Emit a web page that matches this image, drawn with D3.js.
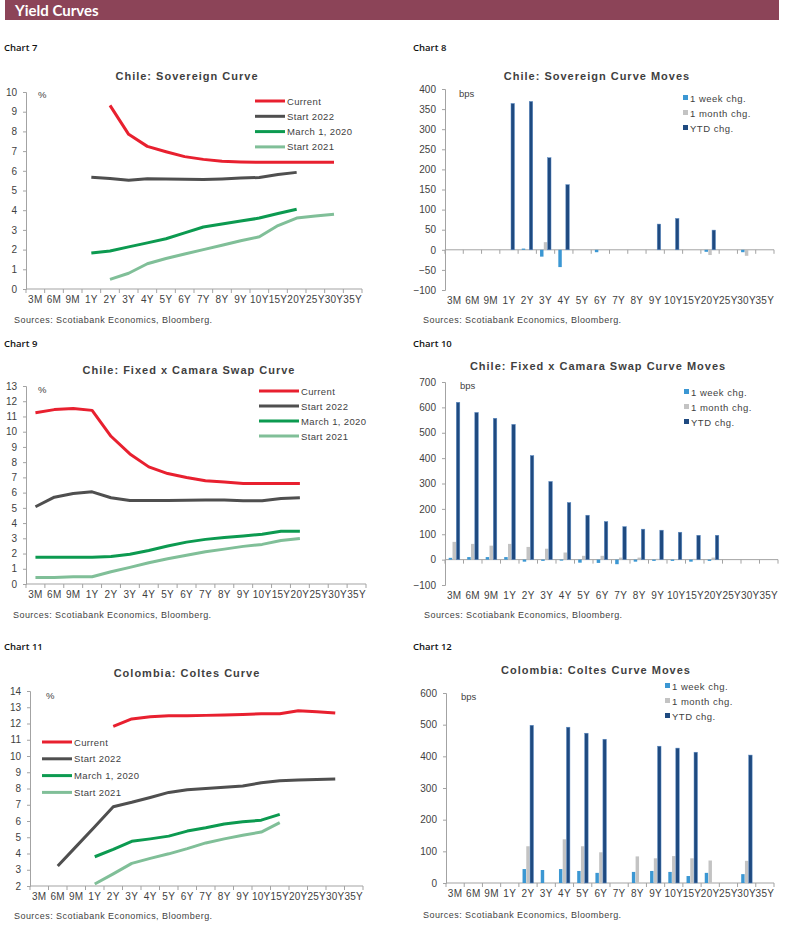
<!DOCTYPE html>
<html>
<head>
<meta charset="utf-8">
<script src="https://cdn.jsdelivr.net/npm/d3@7/dist/d3.min.js"></script>
<style>
  body { margin: 0; background: #fff; }
  svg text { font-family: "Liberation Sans", Arial, sans-serif; }
</style>
</head>
<body>
<svg id="page" width="785" height="928"></svg>
<script>
// tenors on every x axis
var tenors = ["3M","6M","9M","1Y","2Y","3Y","4Y","5Y","6Y","7Y","8Y","9Y","10Y","15Y","20Y","25Y","30Y","35Y"];

var lineNames = ["Current", "Start 2022", "March 1, 2020", "Start 2021"];
var barNames = ["1 week chg.", "1 month chg.", "YTD chg."];

// Chart 7: Chile sovereign curve (%)
var cur7  = [null,null,null,null,9.32,7.85,7.24,6.97,6.72,6.58,6.48,6.45,6.43,6.43,6.43,6.43,6.43,null];
var s22_7 = [null,null,null,5.67,5.61,5.52,5.6,5.58,5.57,5.56,5.59,5.63,5.66,5.81,5.92,null,null,null];
var m20_7 = [null,null,null,1.83,1.93,2.14,2.34,2.55,2.85,3.15,3.3,3.45,3.6,3.83,4.05,null,null,null];
var s21_7 = [null,null,null,null,0.49,0.8,1.28,1.55,1.78,2.0,2.22,2.45,2.65,3.22,3.6,3.71,3.8,null];

// Chart 8: Chile sovereign curve moves (bps)
var wk8  = [null,null,null,null,3,-17,-43,null,-6,null,null,null,null,null,-5,null,-6,null];
var mo8  = [null,null,null,null,null,19,null,null,null,null,null,null,null,null,-13,null,-15,null];
var ytd8 = [null,null,null,364,369,229,162,null,null,null,null,64,78,null,49,null,null,null];

// Chart 9: Chile fixed x camara swap curve (%)
var cur9  = [11.25,11.45,11.52,11.4,9.7,8.54,7.69,7.25,6.99,6.78,6.7,6.6,6.6,6.6,6.6,null,null,null];
var s22_9 = [5.07,5.7,5.94,6.05,5.66,5.48,5.48,5.48,5.5,5.52,5.52,5.47,5.47,5.62,5.67,null,null,null];
var m20_9 = [1.75,1.75,1.75,1.75,1.8,1.95,2.2,2.49,2.75,2.93,3.05,3.15,3.27,3.46,3.46,null,null,null];
var s21_9 = [0.43,0.43,0.48,0.48,0.8,1.09,1.4,1.66,1.89,2.12,2.29,2.47,2.6,2.86,2.99,null,null,null];

// Chart 10: Chile fixed x camara swap curve moves (bps)
var wk10  = [7,10,10,10,-8,-5,-4,-12,-13,-18,-8,-5,-5,-8,-5,null,null,null];
var mo10  = [70,62,55,62,50,43,28,15,15,8,8,3,2,3,8,null,null,null];
var ytd10 = [620,580,557,533,410,308,225,175,150,130,120,116,108,96,96,null,null,null];

// Chart 11: Colombia coltes curve (%)
var cur11  = [null,null,null,null,11.82,12.28,12.42,12.48,12.48,12.5,12.53,12.56,12.6,12.6,12.79,12.72,12.64,null];
var s22_11 = [null,3.23,4.44,5.65,6.88,7.15,7.45,7.76,7.92,8.0,8.08,8.15,8.35,8.48,8.52,8.55,8.58,null];
var m20_11 = [null,null,null,3.8,4.25,4.75,4.9,5.07,5.38,5.58,5.82,5.95,6.05,6.41,null,null,null,null];
var s21_11 = [null,null,null,2.12,2.75,3.39,3.7,3.98,4.3,4.65,4.9,5.12,5.32,5.9,null,null,null,null];

// Chart 12: Colombia coltes curve moves (bps)
var wk12  = [null,null,null,null,44,41,44,38,32,null,35,38,35,22,32,null,28,null];
var mo12  = [null,null,null,null,116,null,138,116,97,null,84,78,85,78,71,null,70,null];
var ytd12 = [null,null,null,null,498,null,492,473,454,null,null,432,426,413,null,null,404,null];

var lineColors = ["#e8202f", "#4f4f4f", "#0c9a50", "#80bf98"];
var barColors = ["#3b97d3", "#c3c3c3", "#1f4a80"];
var axisColor = "#a3a3a3";
var textColor = "#3f3f3f";

var svg = d3.select("#page");

// header band
svg.append("rect").attr("x", 5).attr("y", 0).attr("width", 774).attr("height", 20).attr("fill", "#8c4458");
svg.append("text").attr("x", 15).attr("y", 15.5).text("Yield Curves")
  .style("font-family", "Lato, 'Open Sans', sans-serif").style("font-weight", "bold")
  .attr("font-size", "15px").attr("fill", "#fff");

function chartLabel(x, y, txt) {
  svg.append("text").attr("x", x).attr("y", y).text(txt)
    .style("font-family", "'Open Sans', sans-serif").style("font-weight", "600")
    .attr("font-size", "9.5px").attr("fill", "#111");
}

function addText(x, y, txt, size, opts) {
  opts = opts || {};
  var t = svg.append("text").attr("x", x).attr("y", y).text(txt)
    .attr("font-size", size + "px").attr("fill", opts.fill || textColor)
    .attr("text-anchor", opts.anchor || "start")
    .attr("letter-spacing", opts.ls || 0);
  if (opts.bold) t.attr("font-weight", "bold");
  return t;
}

// common frame: y axis, x band scale, x labels
function frame(c) {
  var x = d3.scaleBand().domain(tenors).range([c.left, c.right]).padding(0);
  var y = d3.scaleLinear().domain(c.domain).range([c.bottom, c.top]);

  var yAxis = d3.axisLeft(y).tickValues(c.ticks).tickSize(3).tickPadding(6).tickFormat(d3.format("d"));
  var gy = svg.append("g").attr("transform", "translate(" + c.left + ",0)").call(yAxis);
  gy.select(".domain").attr("stroke", axisColor);
  gy.selectAll(".tick line").attr("stroke", axisColor);
  gy.selectAll(".tick text").attr("fill", textColor).attr("font-size", "10px")
    .attr("font-family", "'Liberation Sans', Arial, sans-serif");

  // x axis line at zero (or bottom) with ticks at band edges
  var base = y(c.base);
  svg.append("line").attr("x1", c.left).attr("x2", c.right).attr("y1", base).attr("y2", base)
    .attr("stroke", axisColor);
  var edges = tenors.map(function(t) { return x(t); }).concat([c.right]);
  svg.selectAll(null).data(edges).enter().append("line")
    .attr("x1", function(d) { return d; }).attr("x2", function(d) { return d; })
    .attr("y1", base).attr("y2", base + 4).attr("stroke", axisColor);

  svg.selectAll(null).data(tenors).enter().append("text")
    .attr("x", function(d) { return x(d) + x.bandwidth() / 2; })
    .attr("y", c.bottom + 13.5)
    .attr("text-anchor", "middle").attr("font-size", "10px").attr("letter-spacing", 0.3)
    .attr("fill", textColor)
    .text(function(d) { return d; });

  addText(c.unitX, c.unitY, c.unit, 9.5);
  addText(c.titleX, c.titleY, c.title, 11, { anchor: "middle", bold: true, ls: 1 });
  addText(c.srcX, c.srcY, "Sources: Scotiabank Economics, Bloomberg.", 9, { ls: 0.45 });
  return { x: x, y: y };
}

function lineChart(c) {
  var f = frame(c);
  var x = f.x, y = f.y;
  var line = d3.line()
    .defined(function(d) { return d != null; })
    .x(function(d, i) { return x(tenors[i]) + x.bandwidth() / 2; })
    .y(function(d) { return y(d); });

  // draw back to front so "Current" sits on top
  c.series.slice().reverse().forEach(function(s, j) {
    var k = c.series.length - 1 - j;
    svg.append("path").datum(s).attr("d", line)
      .attr("fill", "none").attr("stroke", lineColors[k]).attr("stroke-width", 3)
      .attr("stroke-linejoin", "round");
  });

  lineNames.forEach(function(n, i) {
    var ly = c.legY + i * c.legStep;
    svg.append("line").attr("x1", c.legX).attr("x2", c.legX + c.legLen)
      .attr("y1", ly).attr("y2", ly).attr("stroke", lineColors[i]).attr("stroke-width", 3);
    addText(c.legX + c.legLen + 2, ly + 3.5, n, 9.5, { ls: 0.35 });
  });
}

function barChart(c) {
  var f = frame(c);
  var x = f.x, y = f.y;
  var groupW = x.bandwidth() * 0.6;
  var x1 = d3.scaleBand().domain([0, 1, 2]).range([0, groupW]).paddingInner(0.08);
  var off = (x.bandwidth() - groupW) / 2;

  c.series.forEach(function(s, k) {
    var pts = s.map(function(v, i) { return { t: tenors[i], v: v }; })
      .filter(function(d) { return d.v != null; });
    svg.selectAll(null).data(pts).enter().append("rect")
      .attr("x", function(d) { return x(d.t) + off + x1(k); })
      .attr("width", x1.bandwidth())
      .attr("y", function(d) { return y(Math.max(0, d.v)); })
      .attr("height", function(d) { return Math.abs(y(d.v) - y(0)); })
      .attr("fill", barColors[k])
      .attr("stroke", k === 2 ? "#5d8cc4" : "none").attr("stroke-width", 0.5);
  });

  barNames.forEach(function(n, i) {
    var ly = c.legY + i * 15;
    svg.append("rect").attr("x", c.legX).attr("y", ly - 3).attr("width", 5).attr("height", 5)
      .attr("fill", barColors[i]);
    addText(c.legX + 7, ly + 3.5, n, 9.5, { ls: 0.5 });
  });
}

// Chart 7
chartLabel(4, 51, "Chart 7");
lineChart({
  left: 26, right: 362, top: 92, bottom: 289, domain: [0, 10], base: 0,
  ticks: d3.range(0, 11, 1), series: [cur7, s22_7, m20_7, s21_7],
  unit: "%", unitX: 38, unitY: 98,
  title: "Chile:  Sovereign Curve", titleX: 187, titleY: 80,
  srcX: 14, srcY: 323,
  legX: 255, legY: 101, legStep: 15.3, legLen: 30
});

// Chart 8
chartLabel(413, 51, "Chart 8");
barChart({
  left: 445, right: 774, top: 89, bottom: 290, domain: [-100, 400], base: 0,
  ticks: d3.range(-100, 401, 50), series: [wk8, mo8, ytd8],
  unit: "bps", unitX: 459, unitY: 97,
  title: "Chile:  Sovereign Curve Moves", titleX: 597, titleY: 80,
  srcX: 423, srcY: 323,
  legX: 683, legY: 98
});

// Chart 9
chartLabel(4, 347, "Chart 9");
lineChart({
  left: 26, right: 366, top: 386, bottom: 584, domain: [0, 13], base: 0,
  ticks: d3.range(0, 14, 1), series: [cur9, s22_9, m20_9, s21_9],
  unit: "%", unitX: 38, unitY: 393,
  title: "Chile:  Fixed x Camara Swap Curve", titleX: 189, titleY: 374,
  srcX: 13, srcY: 618,
  legX: 259, legY: 391, legStep: 15, legLen: 40
});

// Chart 10
chartLabel(413, 347, "Chart 10");
barChart({
  left: 445, right: 778, top: 382, bottom: 585, domain: [-100, 700], base: 0,
  ticks: d3.range(-100, 701, 100), series: [wk10, mo10, ytd10],
  unit: "bps", unitX: 460, unitY: 389,
  title: "Chile:  Fixed x Camara Swap Curve Moves", titleX: 598, titleY: 370,
  srcX: 424, srcY: 618,
  legX: 684, legY: 392
});

// Chart 11
chartLabel(4, 650, "Chart 11");
lineChart({
  left: 30, right: 363, top: 691, bottom: 886, domain: [2, 14], base: 2,
  ticks: d3.range(2, 15, 1), series: [cur11, s22_11, m20_11, s21_11],
  unit: "%", unitX: 46, unitY: 699,
  title: "Colombia:  Coltes Curve", titleX: 187, titleY: 677,
  srcX: 14, srcY: 919,
  legX: 42, legY: 742, legStep: 16.8, legLen: 30
});

// Chart 12
chartLabel(413, 650, "Chart 12");
barChart({
  left: 446, right: 774, top: 693, bottom: 883, domain: [0, 600], base: 0,
  ticks: d3.range(0, 601, 100), series: [wk12, mo12, ytd12],
  unit: "bps", unitX: 461, unitY: 700,
  title: "Colombia:  Coltes Curve Moves", titleX: 596, titleY: 674,
  srcX: 423, srcY: 918,
  legX: 665, legY: 686
});
</script>
</body>
</html>
